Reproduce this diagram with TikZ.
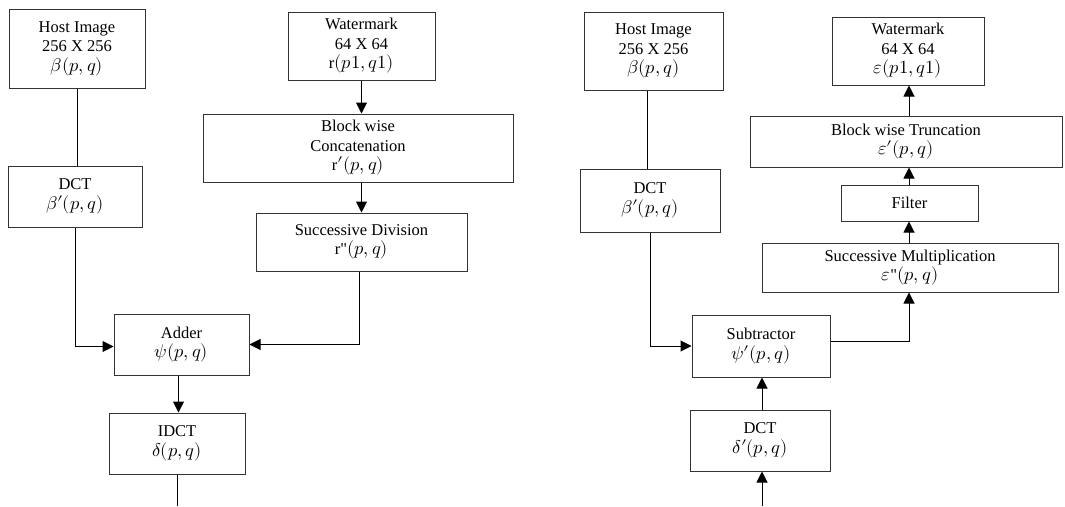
\documentclass[tikz,border=0pt]{standalone}
\usepackage{fontspec}
\usepackage{unicode-math}
\setmainfont{Liberation Serif}
\setmathfont{Latin Modern Math}[Scale=1.12]
\newfontfamily\boxfont{Liberation Serif}
\newcommand{\pr}{{\prime}}
\usetikzlibrary{arrows.meta}
\begin{document}
\begin{tikzpicture}[x=1pt,y=-1pt,
  box/.style={draw=black!80,line width=1pt,rectangle,align=center,inner sep=0pt,
    font=\boxfont\fontsize{16.5}{19.5}\selectfont},
  conn/.style={line width=1pt},
  arr/.style={conn,-{Triangle[length=11pt,width=11pt]}}]
\useasboundingbox (0,0) rectangle (1065,506);
% left
\node[box,minimum width=136pt,minimum height=79pt] (hostL) at (77,48.5) {Host Image\\256 X 256\\$\beta(p,q)$};
\node[box,minimum width=147pt,minimum height=68pt] (wmL) at (361.5,46) {Watermark\\64 X 64\\r$(p1,q1)$};
\node[box,minimum width=310pt,minimum height=68pt] (blockL) at (358,148) {Block wise\\Concatenation\\r$\pr(p,q)$};
\node[box,minimum width=134pt,minimum height=61pt] (dctL) at (75,196.5) {DCT\\$\beta\pr(p,q)$};
\node[box,minimum width=211pt,minimum height=58pt] (succL) at (361.5,242) {Successive Division\\r"$(p,q)$};
\node[box,minimum width=135pt,minimum height=61pt] (adder) at (181.5,344.5) {Adder\\$\psi(p,q)$};
\node[box,minimum width=136pt,minimum height=61pt] (idct) at (177,443.5) {IDCT\\$\delta(p,q)$};
\coordinate (outL) at (177,506);
\draw[conn] (hostL.south) -- (hostL.south |- dctL.north);
\draw[arr] (wmL.south) -- (wmL.south |- blockL.north);
\draw[arr] (blockL.south -| wmL.south) -- (wmL.south |- succL.north);
\draw[arr] (dctL.south) |- ([yshift=-2pt]adder.west);
\draw[arr] ([xshift=-2pt]succL.south) |- (adder.east);
\draw[arr] ([xshift=-3pt]adder.south) -- ([xshift=-3pt]adder.south |- idct.north);
\draw[conn] (idct.south) -- (outL);
% right
\node[box,minimum width=139pt,minimum height=78pt] (hostR) at (653.5,51) {Host Image\\256 X 256\\$\beta(p,q)$};
\node[box,minimum width=140pt,minimum height=63pt] (dctR) at (650,200.5) {DCT\\$\beta\pr(p,q)$};
\node[box,minimum width=152pt,minimum height=68pt] (wmR) at (908,51) {Watermark\\64 X 64\\$\varepsilon(p1,q1)$};
\node[box,minimum width=312pt,minimum height=51pt] (trunc) at (906,141.5) {Block wise Truncation\\$\varepsilon\pr(p,q)$};
\node[box,minimum width=137pt,minimum height=36pt] (filter) at (909.5,203) {Filter};
\node[box,minimum width=296pt,minimum height=49pt] (mult) at (910,267.5) {Successive Multiplication\\$\varepsilon$"$(p,q)$};
\node[box,minimum width=138pt,minimum height=62pt] (sub) at (761,346) {Subtractor\\$\psi\pr(p,q)$};
\node[box,minimum width=140pt,minimum height=61pt] (dct2) at (760,440.5) {DCT\\$\delta\pr(p,q)$};
\coordinate (inR) at (762,506);
\draw[conn] ([xshift=-6pt]hostR.south) -- ([xshift=-6pt]hostR.south |- dctR.north);
\draw[arr] (dctR.south) |- (sub.west);
\draw[arr] (inR) -- (inR |- dct2.south);
\draw[arr] (inR |- dct2.north) -- (inR |- sub.south);
\draw[arr] ([yshift=5pt]sub.east) -| ([xshift=-1pt]mult.south);
\draw[arr] ([xshift=-1pt]mult.north) -- ([xshift=-1pt]mult.north |- filter.south);
\draw[arr] ([xshift=-1pt]mult.north |- filter.north) -- ([xshift=-1pt]mult.north |- trunc.south);
\draw[arr] ([xshift=-1pt]mult.north |- trunc.north) -- ([xshift=-1pt]mult.north |- wmR.south);
\end{tikzpicture}
\end{document}
